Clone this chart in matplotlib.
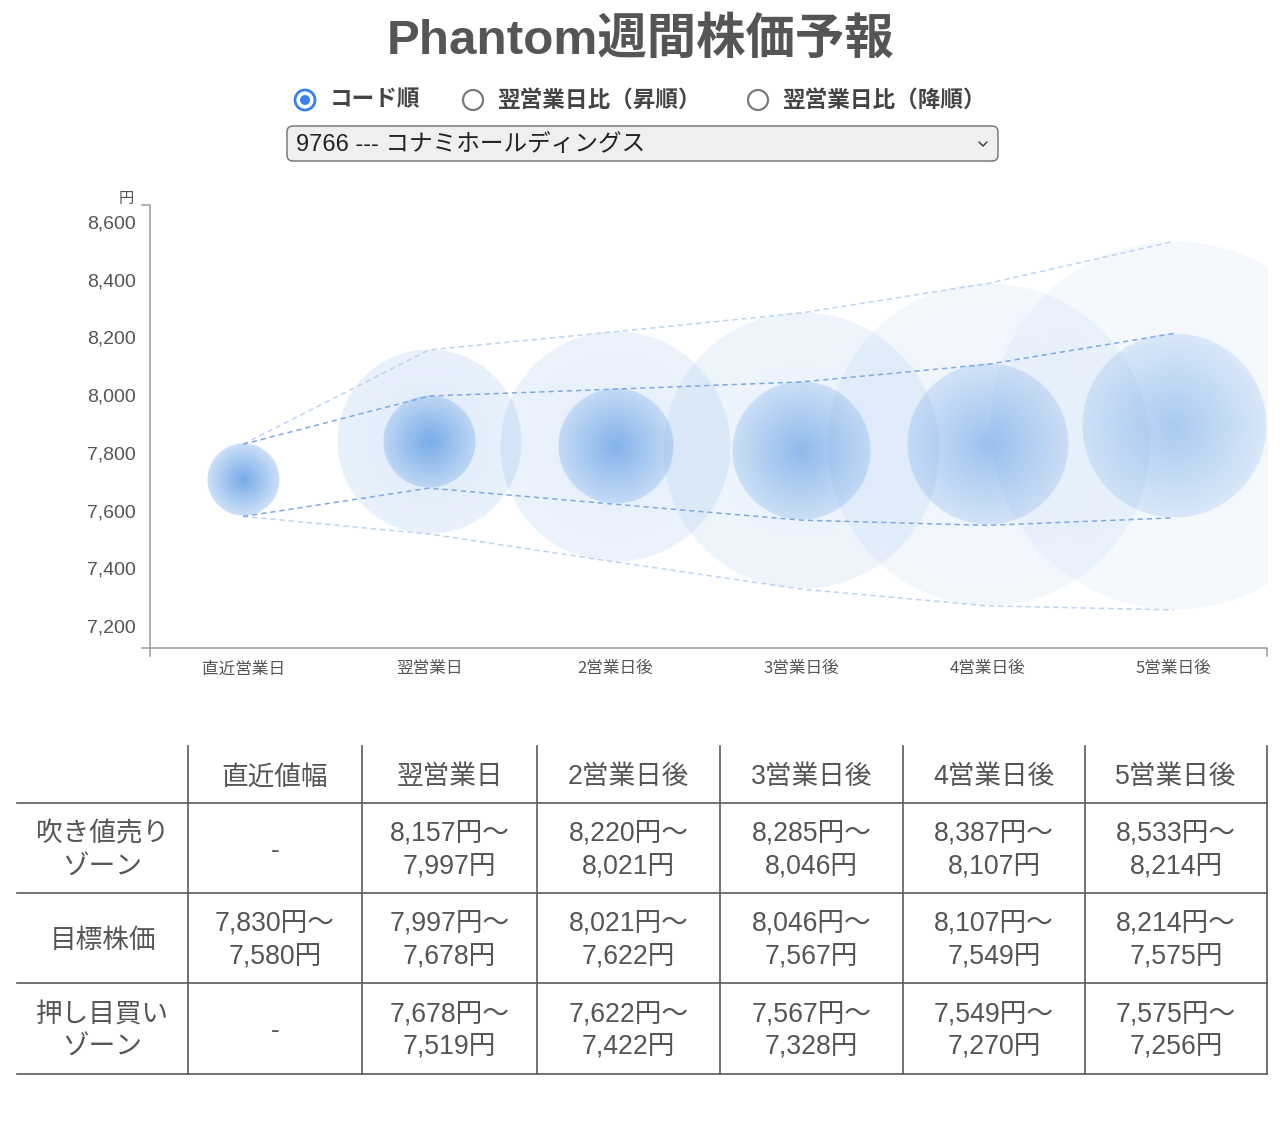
import numpy as np
import matplotlib
matplotlib.use("Agg")
import matplotlib.pyplot as plt
from matplotlib.patches import Circle, FancyBboxPatch

plt.rcParams['font.family'] = ['Noto Sans CJK JP', 'DejaVu Sans']

# ---------------- data ----------------
title = "Phantom週間株価予報"
radio_labels = ["コード順", "翌営業日比（昇順）", "翌営業日比（降順）"]
selected_label = "9766 --- コナミホールディングス"
categories = ["直近営業日", "翌営業日", "2営業日後", "3営業日後", "4営業日後", "5営業日後"]
table_header = ["直近値幅", "翌営業日", "2営業日後", "3営業日後", "4営業日後", "5営業日後"]
row_labels = [["吹き値売り", "ゾーン"], ["目標株価"], ["押し目買い", "ゾーン"]]

target_high = [7830, 7997, 8021, 8046, 8107, 8214]
target_low = [7580, 7678, 7622, 7567, 7549, 7575]
sell_high = [None, 8157, 8220, 8285, 8387, 8533]
sell_low = [None, 7997, 8021, 8046, 8107, 8214]
buy_high = [None, 7678, 7622, 7567, 7549, 7575]
buy_low = [None, 7519, 7422, 7328, 7270, 7256]
y_ticks = [7200, 7400, 7600, 7800, 8000, 8200, 8400, 8600]
y_unit = "円"

# ---------------- figure ----------------
W, H = 1280, 1128
fig = plt.figure(figsize=(W / 100, H / 100), dpi=100)
fig.patch.set_facecolor("white")

ov = fig.add_axes([0, 0, 1, 1])
ov.set_xlim(0, W)
ov.set_ylim(H, 0)
ov.set_axis_off()
ov.patch.set_alpha(0)

TXT = "#555555"
LAT_CJK = ['Liberation Sans', 'Noto Sans CJK JP']

# title
ov.text(641, 41, title, ha="center", va="center", fontsize=35.6, fontweight="bold",
        color=TXT, family=LAT_CJK)

# radio buttons
radio_cx = [305, 473, 758]
radio_tx = [330, 497, 782]
for i, (lab, cx, tx) in enumerate(zip(radio_labels, radio_cx, radio_tx)):
    if i == 0:
        ov.add_patch(Circle((cx, 100), 10, facecolor="white", edgecolor="#3a7ff0", lw=2.0))
        ov.add_patch(Circle((cx, 100), 5, facecolor="#3a7ff0", edgecolor="none"))
    else:
        ov.add_patch(Circle((cx, 100), 10, facecolor="white", edgecolor="#7a7a7a", lw=1.6))
    ov.text(tx, 100, lab, ha="left", va="center", fontsize=16.3, fontweight="bold", color="#444444")

# dropdown
ov.add_patch(FancyBboxPatch((287, 126), 711, 35, boxstyle="round,pad=0,rounding_size=6",
                            facecolor="#efefef", edgecolor="#7a7a7a", lw=1.1))
ov.text(296, 145, selected_label, ha="left", va="center", fontsize=17, color="#222222",
        family=LAT_CJK)
ov.plot([979, 983, 987], [142, 146, 142], color="#333333", lw=1.0, solid_capstyle="round")

# ---------------- chart ----------------
ax_l, ax_r, ax_t, ax_b = 150, 1267, 205, 648
ax = fig.add_axes([ax_l / W, 1 - ax_b / H, (ax_r - ax_l) / W, (ax_b - ax_t) / H])
ax.patch.set_alpha(0)
XLIM = (-0.5, len(categories) - 0.5)
YLIM = (7124, 8659)
px_per_x = (ax_r - ax_l) / (XLIM[1] - XLIM[0])
px_per_y = (ax_b - ax_t) / (YLIM[1] - YLIM[0])

BASE = np.array([74, 144, 226]) / 255.0


def gradient_circle(cx, cy, r_val, a_c, a_e, z):
    r_px = r_val * px_per_y
    rx = r_px / px_per_x
    n = max(int(2 * r_px) + 4, 8)
    u = np.linspace(-1, 1, n)
    U, V = np.meshgrid(u, u)
    R = np.sqrt(U ** 2 + V ** 2)
    alpha = a_c + (a_e - a_c) * np.clip(R, 0, 1)
    alpha = alpha * np.clip((1 - R) * r_px + 0.5, 0, 1)
    img = np.zeros((n, n, 4))
    img[..., :3] = BASE
    img[..., 3] = alpha
    ax.imshow(img, extent=(cx - rx, cx + rx, cy - r_val, cy + r_val), origin="lower",
              interpolation="bilinear", aspect="auto", zorder=z)


for i in range(len(categories)):
    f = 1 - 0.085 * i
    g = 1 - 0.15 * (i - 1)
    if sell_high[i] is not None:
        cy = (sell_high[i] + buy_low[i]) / 2
        r = (sell_high[i] - buy_low[i]) / 2
        gradient_circle(i, cy, r, 0.17 * g, 0.13 * g, 1 + 2 * i)
    cy = (target_high[i] + target_low[i]) / 2
    r = (target_high[i] - target_low[i]) / 2
    gradient_circle(i, cy, r, 0.76 * f, 0.28 * f, 2 + 2 * i)

xs = list(range(len(categories)))
outer_top = [target_high[0]] + sell_high[1:]
outer_bot = [target_low[0]] + buy_low[1:]
for ys, col in [(outer_top, "#bcd3f2"), (outer_bot, "#bcd3f2"),
                (target_high, "#7fa9e4"), (target_low, "#7fa9e4")]:
    ax.plot(xs, ys, color=col, lw=1.1, linestyle=(0, (3.4, 2.6)), zorder=20)

ax.set_xlim(*XLIM)
ax.set_ylim(*YLIM)
for s in ax.spines.values():
    s.set_visible(False)

AXC = "#9a9a9a"
tk_x = 8 / (ax_r - ax_l)
tk_y = 8 / (ax_b - ax_t)
ax.plot([-tk_x, 0, 0, -tk_x], [1, 1, 0, 0], transform=ax.transAxes, color=AXC,
        lw=1.1, clip_on=False, zorder=30)
ax.plot([0, 0, 1, 1], [-tk_y, 0, 0, -tk_y], transform=ax.transAxes, color=AXC,
        lw=1.1, clip_on=False, zorder=30)

ax.set_yticks(y_ticks)
ax.set_yticklabels([f"{v:,}" for v in y_ticks], family=['Liberation Sans'], fontsize=14,
                   color=TXT)
ax.set_xticks(xs)
ax.set_xticklabels(categories, fontsize=12, color=TXT)
ax.tick_params(axis="y", length=0, pad=10)
ax.tick_params(axis="x", length=0, pad=9)

ov.text(126, 198, y_unit, ha="center", va="center", fontsize=11, color=TXT)

# ---------------- table ----------------
col_edges = [17, 188, 362, 537, 720, 903, 1085, 1267]
row_edges = [746, 803, 893, 983, 1074]
LC = "#5a5a5a"
for x in col_edges[1:]:
    ov.plot([x, x], [row_edges[0], row_edges[-1]], color=LC, lw=1.2)
for y in row_edges[1:]:
    ov.plot([col_edges[0], col_edges[-1]], [y, y], color=LC, lw=1.2)

col_c = [(a + b) / 2 for a, b in zip(col_edges[:-1], col_edges[1:])]
row_c = [(a + b) / 2 for a, b in zip(row_edges[:-1], row_edges[1:])]
FS = 19.2
for j, h in enumerate(table_header):
    ov.text(col_c[j + 1], row_c[0] + 3, h, ha="center", va="center", fontsize=FS,
            color=TXT, family=LAT_CJK)


def cell_lines(hi, lo):
    if hi is None:
        return ["-"]
    return [f"{hi:,}円〜", f"{lo:,}円"]


rows = [(sell_high, sell_low), (target_high, target_low), (buy_high, buy_low)]
for r, ((hi_list, lo_list), lab) in enumerate(zip(rows, row_labels)):
    yc = row_c[r + 1] + 3
    cells = [lab] + [cell_lines(hi_list[k], lo_list[k]) for k in range(len(hi_list))]
    for c, lines in enumerate(cells):
        if len(lines) == 1:
            ov.text(col_c[c], yc, lines[0], ha="center", va="center", fontsize=FS,
                    color=TXT, family=LAT_CJK)
        else:
            ov.text(col_c[c], yc - 16.5, lines[0], ha="center", va="center", fontsize=FS,
                    color=TXT, family=LAT_CJK)
            ov.text(col_c[c], yc + 16.5, lines[1], ha="center", va="center", fontsize=FS,
                    color=TXT, family=LAT_CJK)

fig.savefig("out.png", dpi=100)
